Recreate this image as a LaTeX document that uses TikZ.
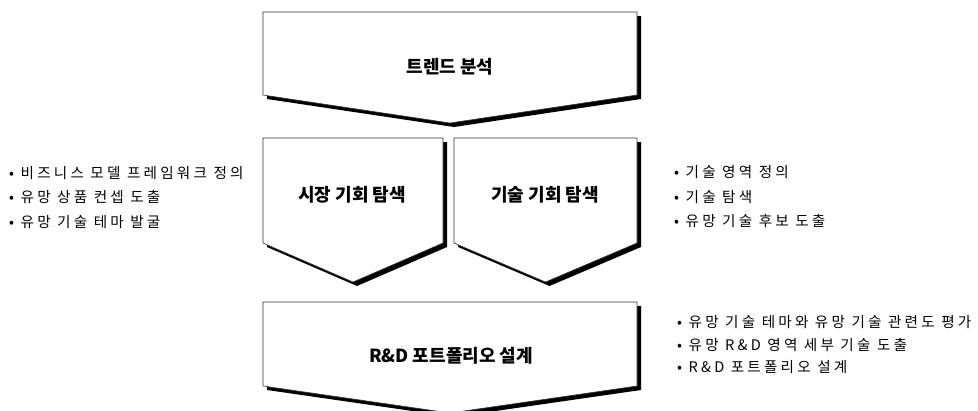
\documentclass[tikz,border=0pt]{standalone}
\usepackage{fontspec}
\newfontfamily\kr{Noto Sans CJK KR}
\newfontfamily\krs{Noto Sans CJK KR}[LetterSpace=22]
\begin{document}
\begin{tikzpicture}[x=1pt,y=-1pt,
  shadowfill/.style={fill=black,xshift=4pt,yshift=-4pt},
  boxshape/.style={fill=white,draw=black!80,line width=0.6pt,line join=miter},
  lbl/.style={font=\kr\bfseries\fontsize{18}{20}\selectfont,inner sep=0pt},
  bul/.style={font=\krs\fontsize{14.6}{16}\selectfont,inner sep=0pt,anchor=west}]
\useasboundingbox (0,0) rectangle (978,410);
% chevron macro
\newcommand\chevshape[5]{%
  \fill[shadowfill] (#1,#3) -- (#2,#3) -- (#2,#4) -- ({(#1+#2)/2},#5) -- (#1,#4) -- cycle;
  \filldraw[boxshape] (#1,#3) -- (#2,#3) -- (#2,#4) -- ({(#1+#2)/2},#5) -- (#1,#4) -- cycle;}
\chevshape{263}{637}{12}{95}{123}
\chevshape{263}{443}{138}{243}{282}
\chevshape{454}{637}{138}{243}{282}
\chevshape{263}{637}{302}{386}{413}
\node[lbl] (trend) at (450,67) {트렌드 분석};
\node[lbl] (market) at (352,195) {시장 기회 탐색};
\node[lbl] (tech) at (545,195) {기술 기회 탐색};
\node[lbl] (rnd) at (451,356) {R\&D 포트폴리오 설계};
\node[bul] (l1) at (9,173) {• 비즈니스 모델 프레임워크 정의};
\node[bul] (l2) at (9,197) {• 유망 상품 컨셉 도출};
\node[bul] (l3) at (9,222) {• 유망 기술 테마 발굴};
\node[bul] (r1) at (674,172) {• 기술 영역 정의};
\node[bul] (r2) at (674,197) {• 기술 탐색};
\node[bul] (r3) at (674,221) {• 유망 기술 후보 도출};
\node[bul] (b1) at (677,322) {• 유망 기술 테마와 유망 기술 관련도 평가};
\node[bul] (b2) at (677,345) {• 유망 R\&D 영역 세부 기술 도출};
\node[bul] (b3) at (677,367) {• R\&D 포트폴리오 설계};
\end{tikzpicture}
\end{document}
